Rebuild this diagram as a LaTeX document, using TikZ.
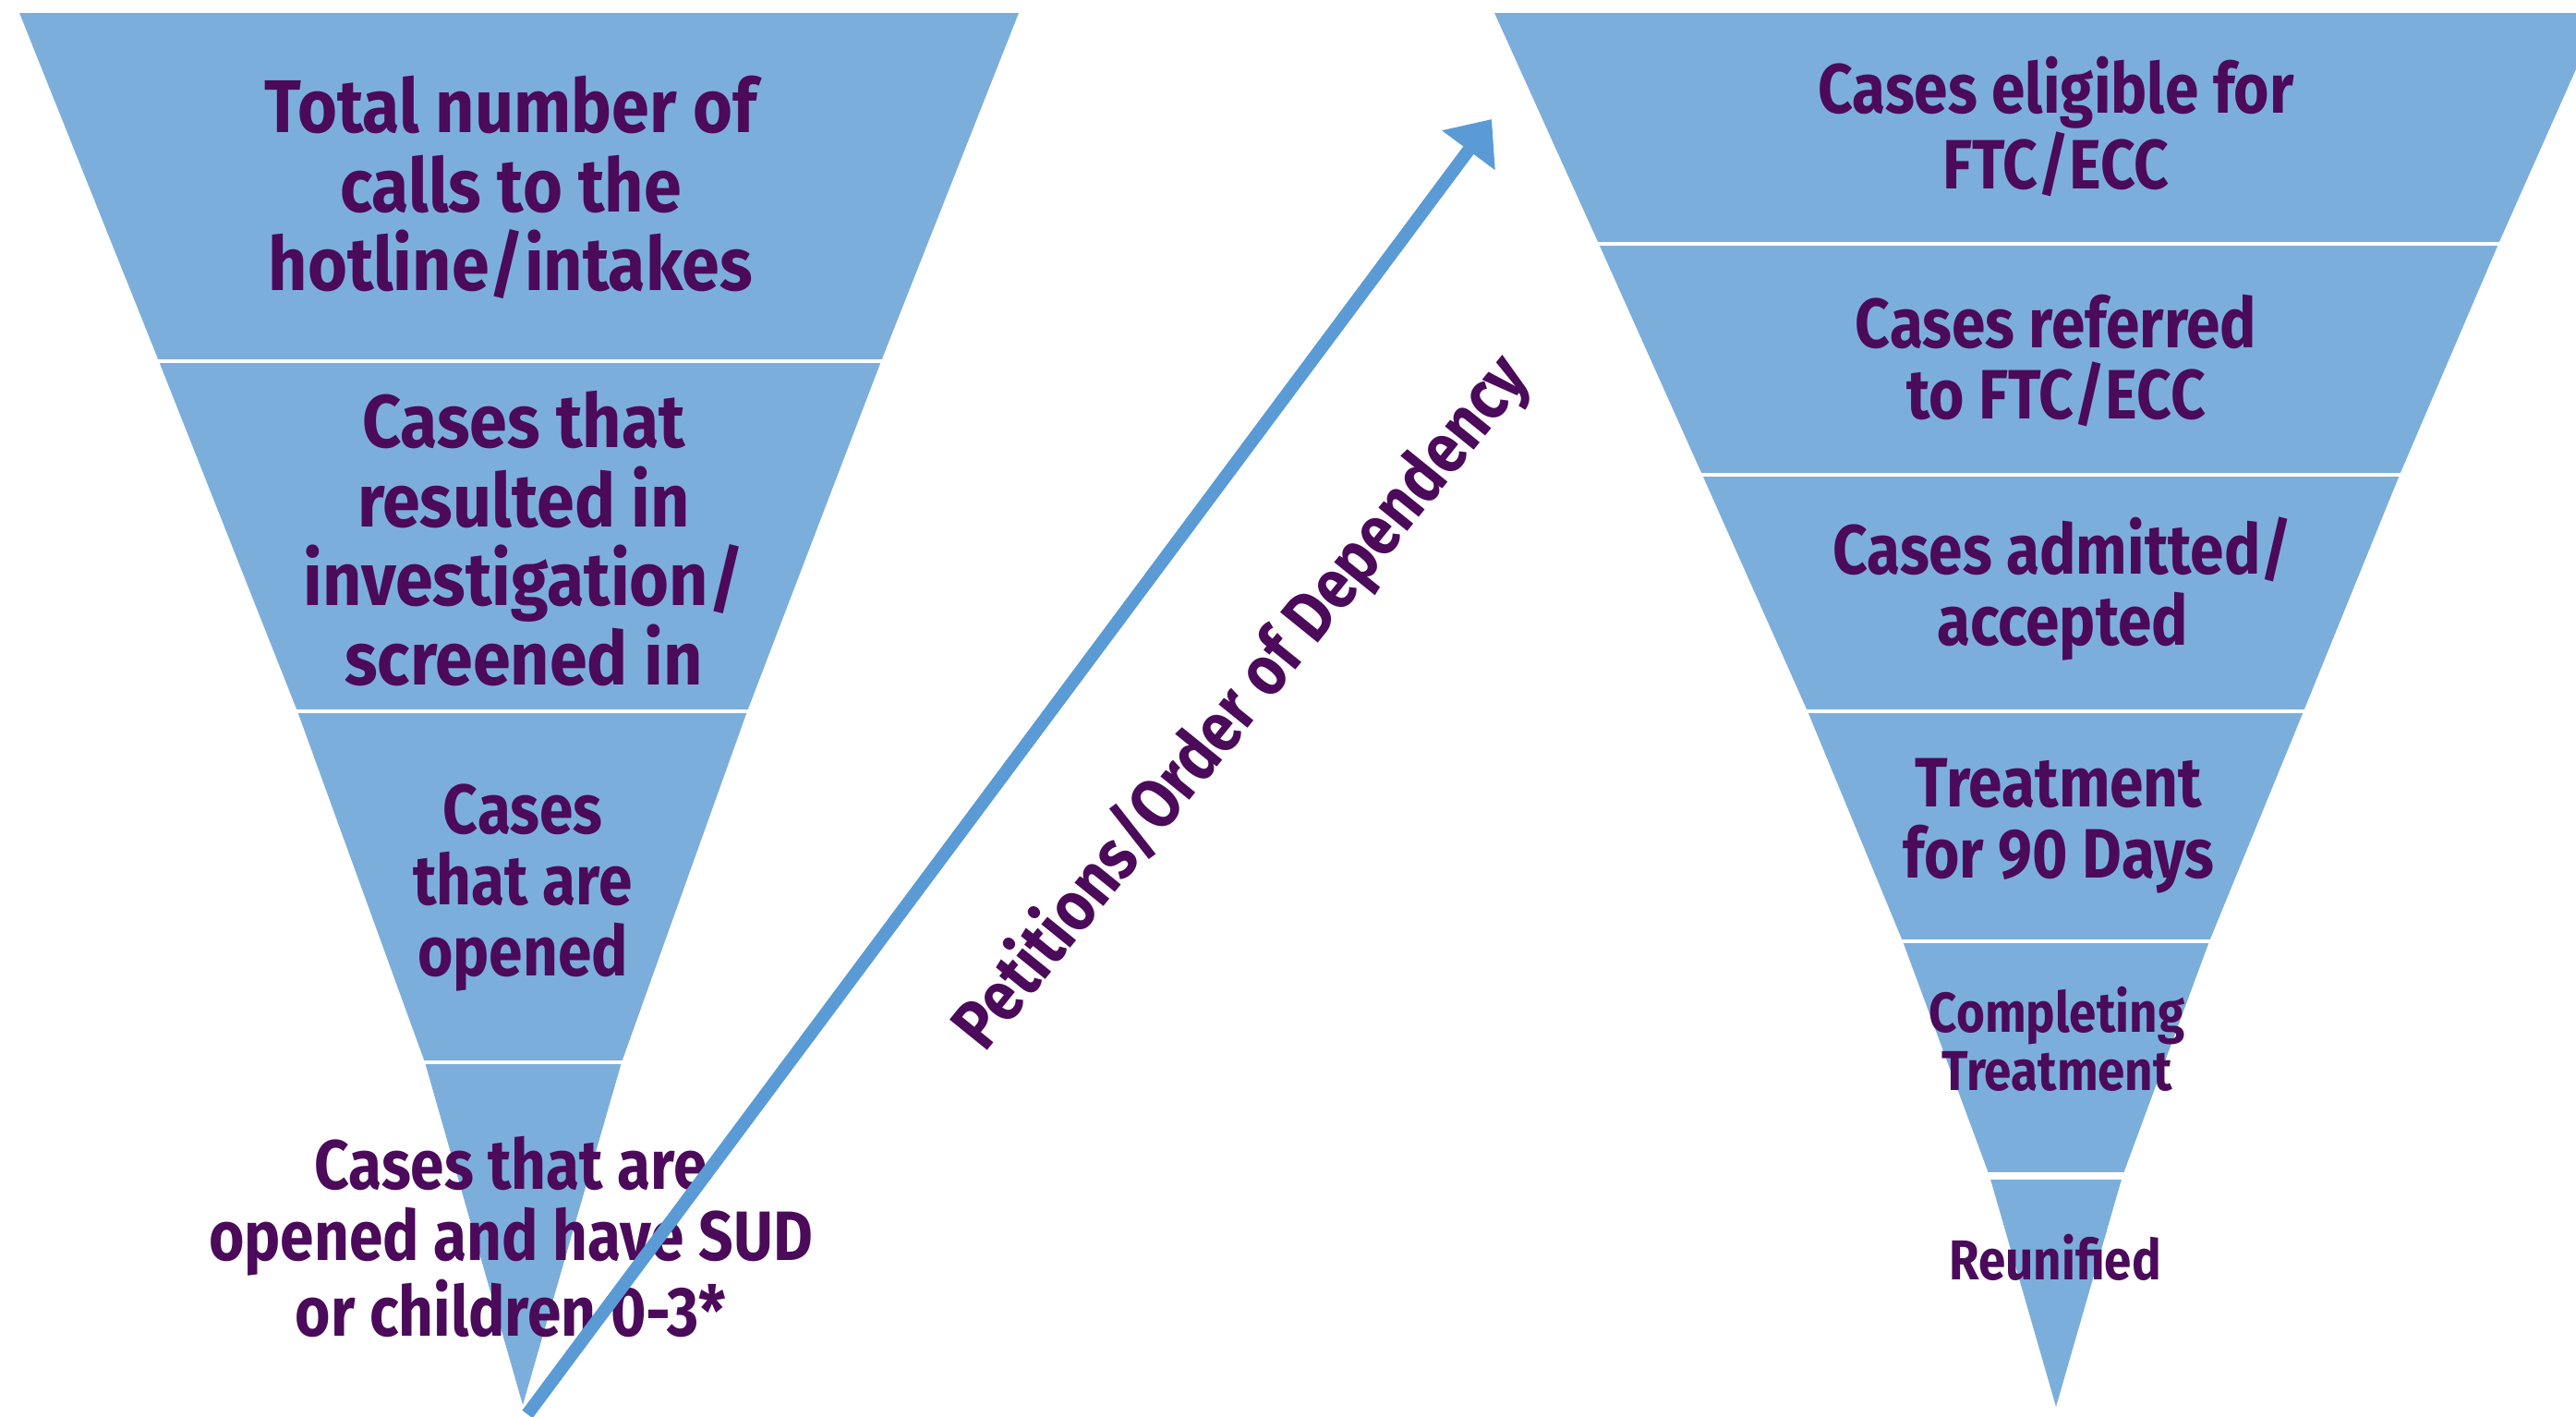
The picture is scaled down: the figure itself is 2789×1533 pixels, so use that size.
\documentclass[tikz,border=0pt]{standalone}
\usepackage{fontspec}
\setmainfont{Fira Sans}[FakeStretch=0.87]
\newfontfamily\bigfont{Fira Sans}[FakeStretch=0.91]
\usetikzlibrary{arrows.meta}
\definecolor{funnelblue}{HTML}{7CAEDC}
\definecolor{arrowblue}{HTML}{5B9BD5}
\definecolor{txtpurple}{HTML}{4B0A5A}
\tikzset{
  funnelshape/.style={fill=funnelblue, draw=none},
  sepline/.style={draw=white, line width=0.4mm},
  bigtext/.style={align=center, inner sep=0pt, text=txtpurple, font=\bigfont\bfseries\fontsize{23}{24.4}\selectfont},
  midtext/.style={align=center, inner sep=0pt, text=txtpurple, font=\bfseries\fontsize{21.5}{21.9}\selectfont},
  smalltext/.style={align=center, inner sep=0pt, text=txtpurple, font=\bfseries\fontsize{17.3}{17.9}\selectfont},
  labeltext/.style={inner sep=0pt, text=txtpurple, font=\bfseries\fontsize{21.5}{24}\selectfont},
  flowarrow/.style={draw=arrowblue, line width=1.4mm, -{Triangle[length=4.2mm,width=6.9mm]}}
}
\begin{document}
\begin{tikzpicture}[x=0.01cm, y=-0.01cm]
\useasboundingbox (0,0) rectangle (2789,1533);
\clip (0,0) rectangle (2789,1533);
% left funnel
\fill[funnelshape] (21,14) -- (1103,14) -- (954,391) -- (809,770) -- (673,1150) -- (566,1521)
  -- (460,1150) -- (322,770) -- (172,391) -- cycle;
\draw[sepline] (165,391) -- (961,391);
\draw[sepline] (315,770) -- (816,770);
\draw[sepline] (453,1150) -- (680,1150);
% right funnel
\fill[funnelshape] (1618,14) -- (2816,14) -- (2705,264) -- (2598,514) -- (2494,770) -- (2392,1019)
  -- (2298,1273) -- (2226,1523) -- (2154,1273) -- (2060,1019) -- (1957,770) -- (1843,514) -- (1731,264) -- cycle;
\draw[sepline] (1724,264) -- (2712,264);
\draw[sepline] (1836,514) -- (2605,514);
\draw[sepline] (1950,770) -- (2501,770);
\draw[sepline] (2053,1019) -- (2399,1019);
\draw[sepline, line width=0.8mm] (2147,1273) -- (2305,1273);
% left texts
\node[bigtext] (l1) at (553,203) {Total number of\\calls to the\\hotline/intakes};
\node[bigtext] (l2) at (567,583) {Cases that\\resulted in\\investigation/\\screened in};
\node[midtext] (l3) at (566,961) {Cases\\that are\\opened};
\node[midtext] (l4) at (553,1339) {Cases that are\\opened and have SUD\\or children 0-3*};
% right texts
\node[midtext] (r1) at (2226,137) {Cases eligible for\\FTC/ECC};
\node[midtext] (r2) at (2226,391) {Cases referred\\to FTC/ECC};
\node[midtext] (r3) at (2233,638) {Cases admitted/\\accepted};
\node[midtext] (r4) at (2229,894) {Treatment\\for 90 Days};
\node[smalltext] (r5) at (2227,1125) {Completing\\Treatment};
\node[smalltext] (r6) at (2225,1361) {Reunified};
% arrow
\coordinate (astart) at (571,1531);
\coordinate (atip) at (1615,129);
\draw[flowarrow] (astart) -- (atip);
\node[labeltext, rotate=51] (alabel) at (1345,761) {Petitions/Order of Dependency};
\end{tikzpicture}
\end{document}
